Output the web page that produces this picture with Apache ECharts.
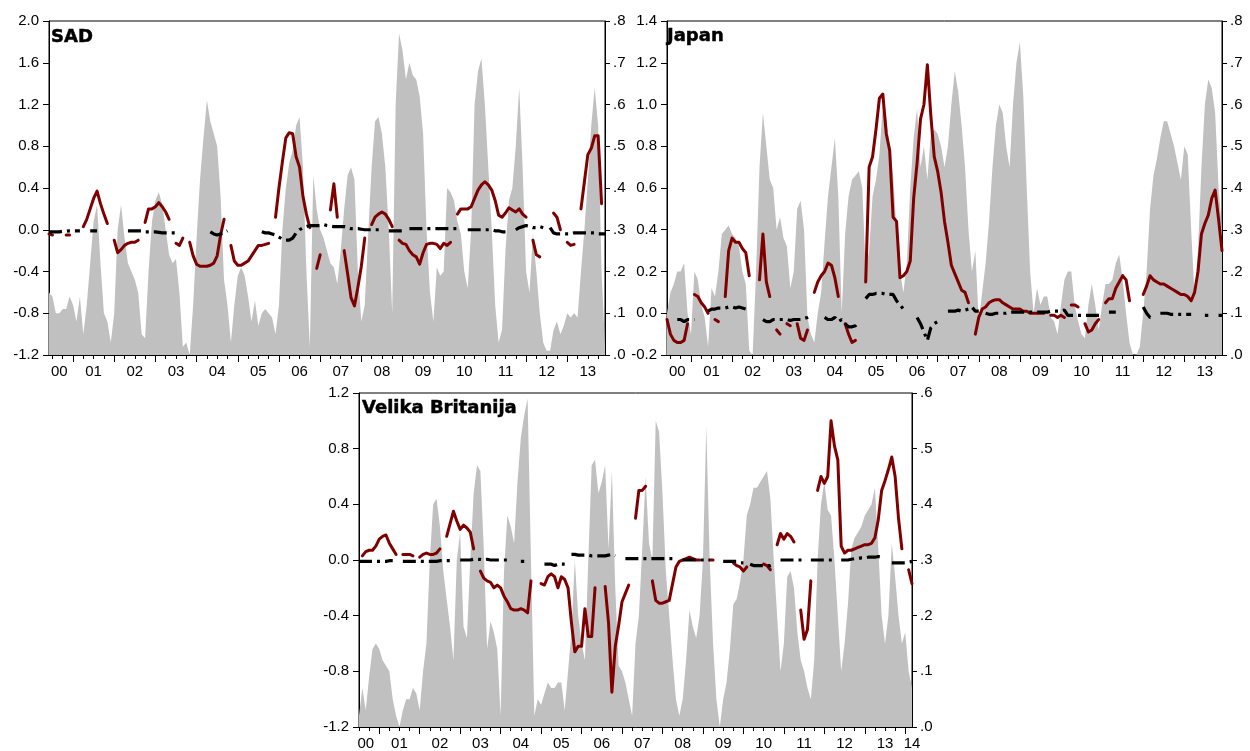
<!DOCTYPE html>
<html>
<head>
<meta charset="utf-8">
<script src="https://cdn.jsdelivr.net/npm/echarts@6/dist/echarts.min.js"></script>
<style>
html, body { margin: 0; padding: 0; background: #fff; }
#chart { width: 1250px; height: 751px; }
</style>
</head>
<body>
<div id="chart"></div>
<script>
// ---- Monthly observations -------------------------------------------------
// SAD and Japan: June 2000 .. December 2013 (163 months)
// Velika Britanija: July 2000 .. March 2014 (165 months)

// SAD: grey area (right axis), dark red line and black dashed line (left axis)
const sadGray = [
  0.15, 0.14, 0.10, 0.10, 0.11, 0.11, 0.14,
  0.12, 0.08, 0.14, 0.05, 0.12, 0.22, 0.32, 0.36, 0.22, 0.10, 0.08, 0.03,
  0.10, 0.30, 0.36, 0.28, 0.22, 0.20, 0.18, 0.15, 0.05, 0.04, 0.20, 0.32,
  0.37, 0.39, 0.36, 0.30, 0.24, 0.22, 0.23, 0.15, 0.02, 0.03, 0.00, 0.12,
  0.28, 0.42, 0.52, 0.61, 0.56, 0.53, 0.50, 0.38, 0.18, 0.12, 0.03, 0.12,
  0.19, 0.21, 0.19, 0.14, 0.08, 0.13, 0.07, 0.10, 0.11, 0.10, 0.09, 0.05,
  0.12, 0.30, 0.40, 0.46, 0.49, 0.55, 0.57, 0.45, 0.20, 0.02, 0.43, 0.35,
  0.30, 0.28, 0.25, 0.22, 0.21, 0.17, 0.25, 0.35, 0.43, 0.45, 0.42, 0.20,
  0.08, 0.12, 0.29, 0.45, 0.56, 0.57, 0.53, 0.45, 0.30, 0.10, 0.60, 0.77,
  0.73, 0.66, 0.70, 0.67, 0.66, 0.62, 0.53, 0.30, 0.15, 0.08, 0.21, 0.19,
  0.20, 0.40, 0.39, 0.37, 0.32, 0.29, 0.20, 0.16, 0.30, 0.60, 0.68, 0.71,
  0.60, 0.45, 0.30, 0.12, 0.03, 0.06, 0.25, 0.37, 0.40, 0.50, 0.64, 0.45,
  0.20, 0.15, 0.29, 0.20, 0.10, 0.03, 0.01, 0.01, 0.06, 0.08, 0.05, 0.07,
  0.10, 0.09, 0.10, 0.09, 0.20, 0.30, 0.42, 0.55, 0.64, 0.55, 0.20, 0.02
];
const sadRed = [
  -0.04, -0.05, null, null, null, -0.05, -0.05,
  null, null, null, 0.03, 0.10, 0.20, 0.30, 0.37, 0.25, 0.15, 0.06, null,
  -0.10, -0.22, -0.19, -0.15, -0.13, -0.12, -0.12, -0.10, null, 0.07, 0.20, 0.20,
  0.22, 0.26, 0.22, 0.17, 0.10, null, -0.13, -0.15, -0.08, null, -0.12, -0.25,
  -0.33, -0.35, -0.35, -0.35, -0.34, -0.32, -0.25, -0.05, 0.10, null, -0.15, -0.30,
  -0.34, -0.34, -0.32, -0.30, -0.25, -0.20, -0.15, -0.15, -0.14, -0.13, null, 0.12,
  0.40, 0.65, 0.88, 0.93, 0.92, 0.70, 0.60, 0.32, 0.15, 0.02, null, -0.37,
  -0.24, null, null, 0.19, 0.44, 0.12, null, -0.20, -0.42, -0.65, -0.73, -0.55,
  -0.35, -0.08, null, 0.05, 0.12, 0.15, 0.17, 0.15, 0.10, 0.03, null, -0.10,
  -0.13, -0.14, -0.20, -0.24, -0.26, -0.33, -0.22, -0.14, -0.13, -0.13, -0.14, -0.18,
  -0.13, -0.15, -0.12, null, 0.15, 0.20, 0.20, 0.20, 0.22, 0.30, 0.38, 0.43,
  0.46, 0.43, 0.38, 0.28, 0.14, 0.12, 0.16, 0.21, 0.19, 0.17, 0.20, 0.15,
  0.12, null, -0.10, -0.24, -0.26, null, null, null, 0.16, 0.12, 0.00, null,
  -0.12, -0.15, -0.14, null, 0.20, 0.46, 0.72, 0.78, 0.90, 0.90, 0.25, null
];
const sadBlack = [
  -0.02, -0.02, -0.02, -0.02, -0.015, -0.015, -0.01,
  -0.01, -0.01, -0.01, null, null, -0.01, -0.01, -0.01, null, null, null, null,
  0.00, null, null, null, -0.01, -0.01, -0.01, -0.01, -0.01, -0.02, -0.02, -0.02,
  -0.02, -0.025, -0.03, -0.03, -0.03, -0.03, -0.03, -0.04, null, null, null, null,
  null, null, null, null, -0.02, -0.04, -0.05, -0.04, -0.03, -0.01, null, null,
  null, null, null, null, null, null, null, -0.02, -0.03, -0.03, -0.04, -0.05,
  -0.07, -0.09, -0.10, -0.10, -0.08, -0.03, 0.00, 0.02, 0.03, 0.04, 0.04, 0.04,
  0.04, 0.05, 0.04, 0.035, 0.03, 0.03, 0.03, 0.03, 0.02, 0.01, 0.01, 0.01,
  0.005, 0.00, 0.00, 0.00, 0.00, 0.00, 0.00, null, -0.01, -0.01, -0.01, -0.01,
  -0.01, null, 0.01, 0.01, 0.01, 0.01, 0.01, 0.01, 0.01, 0.01, 0.01, 0.01,
  0.01, 0.01, 0.01, 0.01, 0.01, 0.01, null, 0.00, 0.00, 0.00, 0.00, 0.00,
  0.00, 0.00, 0.00, -0.01, -0.01, -0.02, -0.02, null, null, 0.00, 0.02, 0.03,
  0.04, 0.03, 0.02, 0.02, 0.03, 0.02, null, 0.02, -0.03, -0.04, -0.04, -0.04,
  -0.04, -0.04, -0.03, -0.03, -0.03, -0.03, -0.03, -0.03, -0.03, -0.04, -0.04, -0.04
];

// Japan
const japGray = [
  0.10, 0.15, 0.17, 0.20, 0.20, 0.22, 0.10,
  0.05, 0.20, 0.18, 0.12, 0.09, 0.02, 0.16, 0.14, 0.20, 0.29, 0.30, 0.31,
  0.29, 0.28, 0.26, 0.20, 0.17, 0.01, 0.00, 0.20, 0.45, 0.58, 0.50, 0.42,
  0.40, 0.30, 0.33, 0.28, 0.26, 0.16, 0.20, 0.35, 0.37, 0.30, 0.09, 0.05,
  0.03, 0.10, 0.15, 0.27, 0.38, 0.45, 0.52, 0.38, 0.10, 0.29, 0.38, 0.42,
  0.43, 0.44, 0.40, 0.20, 0.25, 0.38, 0.42, 0.48, 0.60, 0.57, 0.50, 0.43,
  0.30, 0.20, 0.15, 0.22, 0.40, 0.52, 0.59, 0.45, 0.50, 0.42, 0.53, 0.54,
  0.53, 0.50, 0.45, 0.50, 0.60, 0.68, 0.63, 0.55, 0.45, 0.30, 0.20, 0.25,
  0.08, 0.15, 0.22, 0.32, 0.45, 0.55, 0.60, 0.58, 0.50, 0.45, 0.60, 0.70,
  0.75, 0.62, 0.40, 0.20, 0.10, 0.16, 0.12, 0.14, 0.14, 0.09, 0.08, 0.05,
  0.12, 0.18, 0.20, 0.20, 0.12, 0.08, 0.05, 0.04, 0.12, 0.17, 0.12, 0.06,
  0.12, 0.17, 0.17, 0.18, 0.22, 0.24, 0.18, 0.10, 0.03, 0.00, 0.00, 0.02,
  0.10, 0.20, 0.35, 0.43, 0.47, 0.52, 0.56, 0.56, 0.53, 0.50, 0.46, 0.42,
  0.50, 0.48, 0.30, 0.14, 0.25, 0.45, 0.60, 0.66, 0.64, 0.58, 0.40, 0.30
];
const japRed = [
  -0.03, -0.10, -0.13, -0.14, -0.14, -0.13, -0.05,
  null, 0.09, 0.08, 0.05, 0.03, 0.00, null, -0.03, -0.04, null, 0.08, 0.30,
  0.36, 0.34, 0.34, 0.31, 0.29, 0.18, null, null, 0.16, 0.38, 0.15, 0.08,
  null, -0.08, -0.10, null, -0.05, -0.06, null, -0.05, -0.12, -0.13, -0.08, null,
  0.10, 0.15, 0.18, 0.20, 0.24, 0.23, 0.17, 0.08, null, -0.05, -0.10, -0.14,
  -0.13, null, null, 0.15, 0.70, 0.75, 0.88, 1.03, 1.05, 0.86, 0.78, 0.46,
  0.44, 0.17, 0.18, 0.20, 0.25, 0.55, 0.72, 0.93, 1.00, 1.19, 0.95, 0.75,
  0.68, 0.58, 0.44, 0.34, 0.23, 0.19, 0.15, 0.11, 0.10, 0.05, null, -0.10,
  -0.02, 0.02, 0.03, 0.05, 0.06, 0.065, 0.065, 0.05, 0.04, 0.03, 0.02, 0.02,
  0.02, 0.01, 0.01, 0.00, 0.00, 0.00, 0.00, 0.00, null, -0.01, -0.01, -0.02,
  -0.01, -0.02, null, 0.04, 0.04, 0.03, null, -0.05, -0.09, -0.08, -0.05, -0.03,
  null, 0.05, 0.07, 0.07, 0.12, 0.15, 0.18, 0.16, 0.06, null, null, null,
  0.09, 0.13, 0.18, 0.16, 0.15, 0.14, 0.14, 0.13, 0.12, 0.11, 0.10, 0.09,
  0.09, 0.08, 0.06, 0.10, 0.20, 0.38, 0.43, 0.47, 0.55, 0.59, 0.45, 0.30
];
const japBlack = [
  null, null, null, -0.03, -0.03, -0.04, -0.03,
  -0.03, -0.03, null, null, null, 0.01, 0.02, 0.02, 0.025, 0.025, 0.025, 0.03,
  0.03, 0.025, 0.03, 0.025, 0.02, 0.01, null, null, null, -0.03, -0.04, -0.04,
  -0.03, -0.03, -0.03, -0.03, -0.03, -0.035, -0.03, -0.03, -0.03, -0.025, -0.02, -0.01,
  null, null, null, -0.02, -0.03, -0.03, -0.02, -0.04, -0.03, -0.05, -0.065, -0.065,
  -0.06, -0.04, null, 0.07, 0.09, 0.09, 0.095, 0.095, 0.095, 0.09, 0.09, 0.09,
  0.06, 0.04, 0.02, 0.01, null, null, -0.02, -0.05, -0.09, -0.13, -0.07, -0.05,
  -0.04, -0.03, null, 0.01, 0.01, 0.01, 0.015, 0.01, 0.015, 0.02, 0.03, 0.01,
  0.01, null, 0.00, -0.005, -0.005, 0.00, 0.00, 0.00, 0.00, 0.005, 0.005, 0.005,
  0.005, 0.005, 0.005, 0.005, 0.005, 0.005, 0.005, 0.005, 0.005, 0.01, 0.01, 0.01,
  0.01, 0.015, -0.01, -0.01, -0.01, -0.01, -0.01, -0.01, -0.01, -0.01, -0.01, -0.01,
  -0.01, null, 0.005, 0.005, 0.005, null, null, null, null, null, null, null,
  0.03, 0.00, -0.02, -0.02, null, 0.00, 0.00, 0.00, -0.005, -0.005, -0.005, -0.005,
  -0.005, -0.005, -0.005, null, null, null, -0.01, -0.01, null, null, -0.01, -0.01
];

// Velika Britanija
const ukGray = [
  0.02, 0.07, 0.03, 0.09, 0.14, 0.15,
  0.14, 0.12, 0.11, 0.10, 0.05, 0.02, 0.00, 0.03, 0.05, 0.05, 0.07, 0.06,
  0.03, 0.10, 0.15, 0.30, 0.40, 0.41, 0.36, 0.28, 0.23, 0.18, 0.12, 0.30,
  0.35, 0.18, 0.16, 0.30, 0.42, 0.47, 0.46, 0.32, 0.14, 0.19, 0.17, 0.14,
  0.02, 0.28, 0.38, 0.36, 0.33, 0.44, 0.52, 0.56, 0.59, 0.30, 0.02, 0.05,
  0.04, 0.06, 0.08, 0.07, 0.07, 0.08, 0.08, 0.03, 0.10, 0.17, 0.30, 0.20,
  0.15, 0.12, 0.30, 0.47, 0.48, 0.42, 0.44, 0.47, 0.32, 0.46, 0.25, 0.11,
  0.10, 0.08, 0.05, 0.02, 0.15, 0.20, 0.32, 0.45, 0.33, 0.30, 0.55, 0.53,
  0.42, 0.28, 0.20, 0.12, 0.05, 0.02, 0.05, 0.12, 0.21, 0.18, 0.16, 0.20,
  0.30, 0.54, 0.30, 0.15, 0.05, 0.00, 0.05, 0.08, 0.14, 0.22, 0.23, 0.26,
  0.30, 0.38, 0.40, 0.43, 0.43, 0.44, 0.45, 0.46, 0.41, 0.30, 0.20, 0.10,
  0.15, 0.27, 0.28, 0.25, 0.17, 0.12, 0.10, 0.07, 0.05, 0.12, 0.30, 0.40,
  0.44, 0.39, 0.38, 0.30, 0.20, 0.10, 0.15, 0.22, 0.32, 0.34, 0.35, 0.36,
  0.38, 0.39, 0.40, 0.43, 0.32, 0.20, 0.15, 0.20, 0.33, 0.27, 0.20, 0.15,
  0.17, 0.10, 0.07
];
const ukRed = [
  null, 0.03, 0.06, 0.07, 0.07, 0.10,
  0.15, 0.17, 0.18, 0.12, 0.08, 0.04, null, 0.04, 0.04, 0.04, 0.03, null,
  0.02, 0.04, 0.05, 0.04, 0.04, 0.05, 0.08, null, 0.17, 0.26, 0.35, 0.28,
  0.22, 0.25, 0.23, 0.20, 0.08, null, -0.08, -0.13, -0.15, -0.16, -0.20, -0.18,
  -0.20, -0.26, -0.30, -0.35, -0.36, -0.36, -0.35, -0.36, -0.38, -0.15, null, null,
  -0.17, -0.18, -0.12, -0.10, -0.12, -0.20, -0.12, -0.14, -0.20, -0.45, -0.66, -0.62,
  -0.62, -0.35, -0.55, -0.55, -0.20, null, null, -0.19, -0.45, -0.95, -0.62, -0.47,
  -0.30, -0.24, -0.18, null, 0.30, 0.50, 0.50, 0.53, null, -0.15, -0.29, -0.31,
  -0.31, -0.30, -0.29, -0.17, -0.05, -0.01, 0.00, 0.01, 0.02, 0.01, 0.00, 0.00,
  null, null, 0.00, 0.00, null, null, null, null, null, -0.02, -0.04, -0.05,
  -0.08, -0.05, null, null, null, null, -0.03, -0.04, -0.07, null, 0.11, 0.19,
  0.15, 0.19, 0.17, 0.13, null, -0.36, -0.57, -0.50, -0.15, null, 0.50, 0.60,
  0.55, 0.60, 1.00, 0.82, 0.72, 0.10, 0.05, 0.07, 0.07, 0.08, 0.09, 0.10,
  0.11, 0.11, 0.12, 0.16, 0.29, 0.50, 0.57, 0.65, 0.74, 0.60, 0.30, 0.08,
  null, -0.07, -0.17
];
const ukBlack = [
  -0.01, -0.01, -0.01, -0.01, -0.01, -0.01,
  -0.01, -0.01, -0.01, -0.005, -0.005, null, null, -0.01, -0.01, -0.01, -0.01, -0.01,
  -0.01, -0.01, -0.01, -0.01, -0.01, -0.01, -0.005, -0.005, -0.005, -0.005, -0.005, null,
  0.00, 0.00, 0.00, 0.00, 0.005, 0.005, 0.005, 0.00, 0.005, 0.00, 0.00, 0.00,
  0.00, 0.00, 0.00, null, null, null, -0.01, -0.01, null, null, 0.01, null,
  null, -0.03, -0.03, -0.03, -0.04, -0.03, -0.03, -0.03, null, 0.04, 0.04, 0.035,
  0.035, 0.035, 0.035, 0.03, 0.03, 0.03, 0.03, 0.03, 0.035, 0.04, 0.03, null,
  null, 0.01, 0.01, 0.01, 0.01, 0.01, 0.01, 0.01, 0.01, 0.01, 0.01, 0.01,
  0.01, 0.01, 0.01, 0.01, 0.01, null, 0.00, 0.00, 0.00, 0.00, 0.00, 0.00,
  0.00, 0.00, 0.00, null, null, null, -0.01, -0.01, -0.01, -0.01, -0.01, -0.02,
  -0.02, null, -0.03, -0.04, -0.04, -0.04, -0.04, -0.04, -0.04, -0.03, null, 0.00,
  0.00, 0.00, 0.00, 0.00, 0.00, 0.00, 0.00, null, 0.00, 0.00, 0.00, 0.00,
  0.00, 0.00, 0.00, 0.00, null, 0.00, 0.00, 0.00, 0.005, 0.01, 0.01, 0.015,
  0.015, 0.02, 0.02, 0.02, 0.025, 0.02, null, null, -0.02, -0.02, -0.02, -0.02,
  -0.02, -0.015, -0.01
];

// Month where each year's two-digit label sits (mid-year, or the middle of a partial year)
const topYearLabelMonths = ['2000-09', '2001-07', '2002-07', '2003-07', '2004-07', '2005-07', '2006-07',
  '2007-07', '2008-07', '2009-07', '2010-07', '2011-07', '2012-07', '2013-07'];
const ukYearLabelMonths = ['2000-09', '2001-07', '2002-07', '2003-07', '2004-07', '2005-07', '2006-07',
  '2007-07', '2008-07', '2009-07', '2010-07', '2011-07', '2012-07', '2013-07', '2014-03'];

// ---- Helpers ---------------------------------------------------------------
function monthSeries(year, month, count) {
  const out = [];
  for (let i = 0; i < count; i++) {
    out.push(year + '-' + String(month).padStart(2, '0'));
    month++;
    if (month > 12) { month = 1; year++; }
  }
  return out;
}
const topMonths = monthSeries(2000, 6, 163);
const ukMonths = monthSeries(2000, 7, 165);

[[sadGray, 163], [sadRed, 163], [sadBlack, 163], [japGray, 163], [japRed, 163], [japBlack, 163],
 [ukGray, 165], [ukRed, 165], [ukBlack, 165]].forEach(function (p, k) {
  if (p[0].length !== p[1]) throw new Error('series ' + k + ' has ' + p[0].length + ' values');
});

const FONT = 'Liberation Sans, Arial, sans-serif';
const RED = '#800000';
const GREY = '#c0c0c0';

const panels = [
  { title: 'SAD', months: topMonths, labels: topYearLabelMonths, gray: sadGray, red: sadRed, black: sadBlack,
    grid: { left: 49, top: 21, width: 556, height: 334 }, lmin: -1.2, lmax: 2.0, lstep: 0.4, rmax: 0.8,
    titlePos: { left: 51, top: 28 } },
  { title: 'Japan', months: topMonths, labels: topYearLabelMonths, gray: japGray, red: japRed, black: japBlack,
    grid: { left: 667, top: 21, width: 555, height: 334 }, lmin: -0.2, lmax: 1.4, lstep: 0.2, rmax: 0.8,
    titlePos: { left: 667, top: 27 } },
  { title: 'Velika Britanija', months: ukMonths, labels: ukYearLabelMonths, gray: ukGray, red: ukRed, black: ukBlack,
    grid: { left: 359, top: 393, width: 553, height: 334 }, lmin: -1.2, lmax: 1.2, lstep: 0.4, rmax: 0.6,
    titlePos: { left: 362, top: 399 } }
];

const option = {
  animation: false,
  backgroundColor: '#ffffff',
  title: [], grid: [], xAxis: [], yAxis: [], series: []
};

panels.forEach(function (p, g) {
  option.title.push({
    text: p.title, left: p.titlePos.left, top: p.titlePos.top, padding: 0,
    textStyle: {
      fontFamily: 'DejaVu Sans', fontWeight: 'bold', fontSize: 18, color: '#000',
      textBorderColor: '#000', textBorderWidth: 0.5
    }
  });
  option.grid.push(Object.assign({
    show: true, borderColor: '#000', borderWidth: 1, backgroundColor: 'transparent',
    containLabel: false, outerBoundsMode: 'none'
  }, p.grid));

  const labelSet = new Set(p.labels);
  // main time axis: quarterly short ticks and year labels
  option.xAxis.push({
    type: 'category', gridIndex: g, data: p.months, boundaryGap: false, position: 'bottom',
    axisLine: { show: true, onZero: false, lineStyle: { color: '#000', width: 1 } },
    axisTick: {
      show: true, length: 4, lineStyle: { color: '#000', width: 1 },
      interval: function (i, v) { const m = String(v).slice(5); return m === '01' || m === '04' || m === '07' || m === '10'; }
    },
    axisLabel: {
      interval: function (i, v) { return labelSet.has(v); },
      formatter: function (v) { return v.slice(2, 4); },
      color: '#000', fontFamily: FONT, fontSize: 15, margin: 9
    },
    splitLine: { show: false }
  });
  // companion axis carrying the longer year-boundary ticks
  option.xAxis.push({
    type: 'category', gridIndex: g, data: p.months, boundaryGap: false, position: 'bottom',
    axisLine: { show: false, onZero: false },
    axisTick: {
      show: true, length: 7, lineStyle: { color: '#000', width: 1 },
      interval: function (i, v) { return String(v).slice(5) === '01'; }
    },
    axisLabel: { show: false },
    splitLine: { show: false }
  });

  option.yAxis.push({
    type: 'value', gridIndex: g, position: 'left', min: p.lmin, max: p.lmax, interval: p.lstep,
    axisLine: { show: true, onZero: false, lineStyle: { color: '#000', width: 1 } },
    axisTick: { show: true, length: 6, lineStyle: { color: '#000' } },
    axisLabel: {
      color: '#000', fontFamily: FONT, fontSize: 15, margin: 10,
      formatter: function (v) { return Math.abs(v) < 1e-9 ? '0.0' : v.toFixed(1); }
    },
    splitLine: { show: false }
  });
  option.yAxis.push({
    type: 'value', gridIndex: g, position: 'right', min: 0, max: p.rmax, interval: 0.1,
    axisLine: { show: true, onZero: false, lineStyle: { color: '#000', width: 1 } },
    axisTick: { show: true, length: 5, lineStyle: { color: '#000' } },
    axisLabel: {
      color: '#000', fontFamily: FONT, fontSize: 15, margin: 8,
      formatter: function (v) { return v.toFixed(1).replace(/^0\./, '.'); }
    },
    splitLine: { show: false }
  });

  const xi = g * 2, yl = g * 2, yr = g * 2 + 1;
  option.series.push({
    type: 'line', xAxisIndex: xi, yAxisIndex: yr, data: p.gray, symbol: 'none',
    lineStyle: { width: 0, color: GREY }, areaStyle: { color: GREY, opacity: 1 }, z: 1
  });
  option.series.push({
    type: 'line', xAxisIndex: xi, yAxisIndex: yl, data: p.red, symbol: 'none', connectNulls: false,
    lineStyle: { width: 3, color: RED, cap: 'round', join: 'round' }, z: 3
  });
  option.series.push({
    type: 'line', xAxisIndex: xi, yAxisIndex: yl, data: p.black, symbol: 'none', connectNulls: false,
    lineStyle: { width: 3.2, color: '#000', type: [13, 5, 3, 5] }, z: 4
  });
});

const chart = echarts.init(document.getElementById('chart'), null, { renderer: 'canvas' });
chart.setOption(option);
</script>
</body>
</html>
